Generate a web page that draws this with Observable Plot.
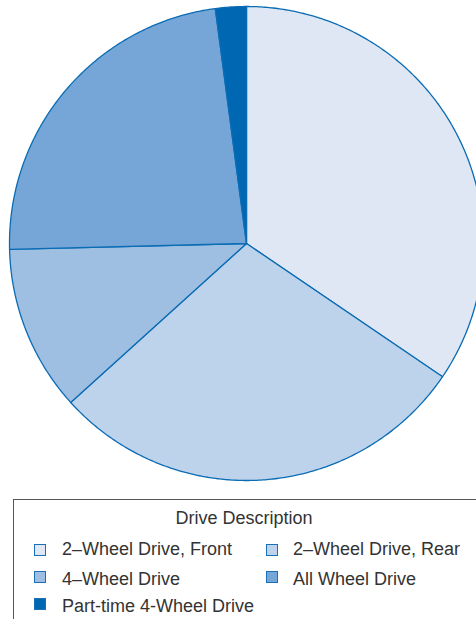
<!DOCTYPE html>
<html><head><meta charset="utf-8">
<script src="https://cdn.jsdelivr.net/npm/d3@7"></script>
<script src="https://cdn.jsdelivr.net/npm/@observablehq/plot@0.6"></script>
<style>
html,body{margin:0;padding:0;overflow:hidden;background:#fff;}
body{font-family:"Liberation Sans",Arial,sans-serif;color:#333;width:476px;height:619px;position:relative;}
#chart{position:absolute;left:0;top:0;}
#chart svg{overflow:hidden;display:block;}
#legend{position:absolute;left:13px;top:499px;width:520px;height:200px;border:1px solid #555;box-sizing:border-box;}
.lt{position:absolute;font-size:18px;line-height:18px;white-space:nowrap;}
.sw{position:absolute;width:12px;height:12px;box-sizing:border-box;border:1.5px solid #1a6fb6;}
</style></head><body>
<div id="chart"></div>
<div id="legend"></div>
<script>
const categories = ["2–Wheel Drive, Front","2–Wheel Drive, Rear","4–Wheel Drive","All Wheel Drive","Part-time 4-Wheel Drive"];
const shares = [34.5, 28.8, 11.3, 23.3, 2.1];
const colors = ["#dfe7f5","#bdd2eb","#9ebee2","#76a6d7","#0067b3"];
const legendTitle = "Drive Description";

const rows = categories.map((c, i) => ({category: c, share: shares[i]}));
const arcs = d3.pie().sort(null).value(d => d.share)(rows);
const pts = [];
for (const a of arcs) {
  const c = a.data.category;
  const n = Math.max(2, Math.ceil((a.endAngle - a.startAngle) / (Math.PI / 360)));
  pts.push({category: c, x: 0, y: 0});
  for (let k = 0; k <= n; k++) {
    const t = a.startAngle + (a.endAngle - a.startAngle) * k / n;
    pts.push({category: c, x: Math.sin(t), y: Math.cos(t)});
  }
  pts.push({category: c, x: 0, y: 0});
}

const R = 237, CX = 246, CY = 243, W = 476, H = 490;
const chart = Plot.plot({
  width: W, height: H, margin: 0,
  x: {domain: [-CX / R, (W - CX) / R], axis: null},
  y: {domain: [-(H - CY) / R, CY / R], axis: null},
  color: {domain: categories, range: colors},
  marks: [
    Plot.line(pts, {x: "x", y: "y", z: "category", fill: "category", stroke: "#0a6cb4", strokeWidth: 1.3, strokeLinejoin: "round"})
  ]
});
document.getElementById("chart").append(chart);

// legend
const lg = document.getElementById("legend");
const t = document.createElement("div");
t.className = "lt"; t.textContent = legendTitle;
t.style.left = "0px"; t.style.width = "460px"; t.style.textAlign = "center"; t.style.top = "9px";
lg.append(t);
const colX = [20, 252], textX = [48, 279], rowTop = [40, 70, 97], swTop = [44, 71, 98];
categories.forEach((c, i) => {
  const col = i % 2, row = Math.floor(i / 2);
  const s = document.createElement("div");
  s.className = "sw"; s.style.background = colors[i];
  s.style.left = colX[col] + "px"; s.style.top = swTop[row] + "px";
  lg.append(s);
  const l = document.createElement("div");
  l.className = "lt"; l.textContent = c;
  l.style.left = textX[col] + "px"; l.style.top = rowTop[row] + "px";
  lg.append(l);
});
</script>
</body></html>
